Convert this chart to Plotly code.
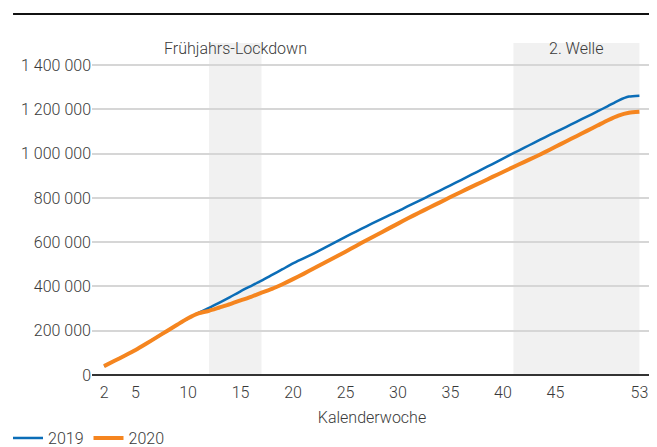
import plotly.graph_objects as go

weeks = list(range(2, 54))

deaths_2019 = [40, 64, 88, 113, 141, 170, 199, 228, 256, 281,
               303, 327, 352, 378, 402, 426, 452, 478, 504, 527,
               550, 574, 599, 624, 648, 672, 695, 718, 740, 764,
               787, 810, 833, 857, 881, 905, 929, 953, 978, 1002,
               1026, 1050, 1074, 1097, 1120, 1144, 1167, 1191, 1215, 1240,
               1258, 1262]

deaths_2020 = [40, 64, 88, 113, 141, 170, 199, 228, 256, 278,
               290, 305, 320, 337, 353, 372, 389, 410, 433, 457,
               482, 507, 532, 557, 583, 609, 634, 659, 684, 709,
               733, 757, 780, 804, 827, 850, 872, 895, 917, 940,
               962, 984, 1007, 1031, 1055, 1079, 1103, 1127, 1151, 1172,
               1185, 1189]

x_ticks = [2, 5, 10, 15, 20, 25, 30, 35, 40, 45, 53]
y_ticks = [0, 200000, 400000, 600000, 800000, 1000000, 1200000, 1400000]

phases = [("Frühjahrs-Lockdown", 12, 17), ("2. Welle", 41, 53)]

BLUE = "#0b6db7"
ORANGE = "#f5851f"
TEXT = "#3a3a3a"
FONT = dict(family="Roboto", size=16, color=TEXT, weight=300)

fig = go.Figure()
fig.add_trace(go.Scatter(x=weeks, y=[v * 1000 for v in deaths_2019], name="2019",
                         mode="lines", line=dict(color=BLUE, width=2.5, shape="spline", smoothing=0.6)))
fig.add_trace(go.Scatter(x=weeks, y=[v * 1000 for v in deaths_2020], name="2020",
                         mode="lines", line=dict(color=ORANGE, width=4, shape="spline", smoothing=0.6)))

for label, a, b in phases:
    fig.add_shape(type="rect", xref="x", yref="y", x0=a, x1=b, y0=0, y1=1500000,
                  fillcolor="#f1f1f1", line=dict(width=0), layer="below")
    fig.add_annotation(x=(a + b) / 2, y=1475000, xref="x", yref="y", text=label,
                       showarrow=False, font=FONT, yanchor="middle")

fig.add_shape(type="line", xref="paper", yref="paper", x0=-0.141, x1=1.01, y0=1.087, y1=1.087,
              line=dict(color="#111111", width=2))

fig.update_layout(
    width=649, height=439,
    margin=dict(l=84, r=5, t=35, b=72, autoexpand=False),
    paper_bgcolor="white", plot_bgcolor="white",
    font=FONT,
    separators=", ",
    showlegend=True,
    legend=dict(orientation="h", x=-0.15, xanchor="left", y=-0.19, yanchor="middle",
                font=FONT, itemwidth=30, tracegroupgap=0),
    xaxis=dict(range=[0.85, 54.2], tickmode="array", tickvals=x_ticks,
               showgrid=False, zeroline=False, showline=False, ticks="",
               tickfont=FONT, ticklabelstandoff=6,
               title=dict(text="Kalenderwoche", standoff=10, font=FONT)),
    yaxis=dict(range=[0, 1500000], tickmode="array", tickvals=y_ticks, tickformat=",d",
               showgrid=True, gridcolor="#d6d6d6", gridwidth=1.5,
               zeroline=True, zerolinecolor="#333333", zerolinewidth=2,
               showline=False, ticks="", ticklen=0, tickfont=FONT),
)

fig.write_html("out.html")
